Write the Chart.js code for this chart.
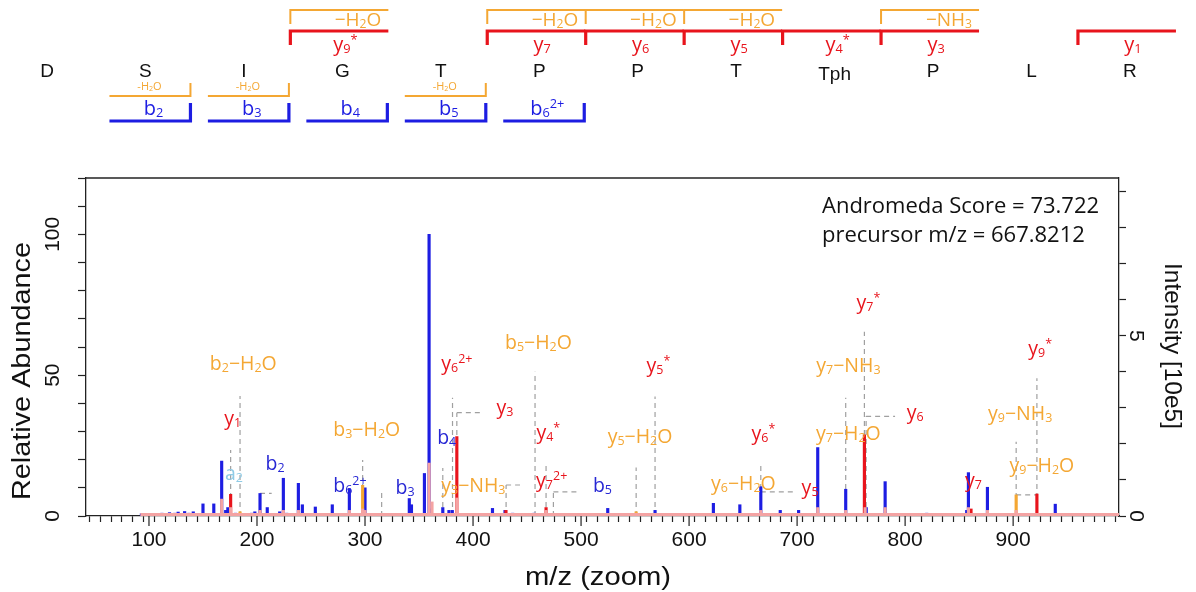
<!DOCTYPE html>
<html>
<head>
<meta charset="utf-8">
<script src="https://cdn.jsdelivr.net/npm/chart.js@4.4.0/dist/chart.umd.min.js"></script>
<style>
  html, body { margin: 0; padding: 0; background: #fff; }
  #wrap { width: 1196px; height: 592px; }
</style>
</head>
<body>
<div id="wrap"><canvas id="spec" width="1196" height="592"></canvas></div>
<script>
// ===============================
// Peptide sequence and fragment coverage
// ===============================
const residues = ["D", "S", "I", "G", "T", "P", "P", "T", "Tph", "P", "L", "R"];
const yStart = [3, 5, 6, 7, 8, 9, 11];
const yNames = ["y_9^*", "y_7", "y_6", "y_5", "y_4^*", "y_3", "y_1"];
const yLoss = ["−H_2O", "−H_2O", "−H_2O", "−H_2O", "", "−NH_3", ""];
const bEnd = [1, 2, 3, 4, 5];
const bNames = ["b_2", "b_3", "b_4", "b_5", "b_6^2+"];
const bLoss = ["-H_2O", "-H_2O", "", "-H_2O", ""];

// ===============================
// Spectrum peaks (m/z, relative abundance %)
// ===============================
const blueMz = [93, 102, 107, 112, 116, 119, 124, 127, 130, 133, 137, 141, 150, 160, 167.3, 171, 173, 180,
  195, 198, 202.8, 209.5, 221, 224.4, 227.5, 238.3, 242, 254, 269.7, 285.5, 300, 341, 343, 355, 359.3, 361,
  372, 377.7, 380.8, 418, 429.6, 436.7, 443, 446, 456.5, 477, 500, 503, 524.7, 568.5, 596, 622.5, 647, 659.6,
  666.4, 684.4, 701.4, 719.1, 745, 764, 781.5, 820, 857, 858.6, 876.2, 939];
const blueRel = [0.8, 0.8, 0.6, 1.0, 0.6, 1.2, 1.0, 1.4, 0.8, 1.6, 1.0, 1.5, 4.3, 4.3, 19.5, 2.0, 3.0, 1.0,
  1.0, 1.5, 8.0, 3.0, 1.5, 13.4, 1.0, 11.6, 4.0, 3.2, 4.0, 9.7, 10.0, 6.2, 4.0, 15.1, 100, 2.5,
  3.0, 2.0, 2.0, 2.7, 2.0, 1.0, 0.8, 0.8, 1.0, 0.8, 0.7, 0.7, 2.7, 2.0, 0.5, 4.5, 4.0, 0.7,
  10.4, 2.0, 2.0, 24.3, 9.5, 3.0, 12.2, 1.0, 2.0, 15.4, 10.2, 4.2];
const redMz = [175.6, 385, 430.5, 467.6, 762.3, 861, 922];
const redRel = [7.7, 28.2, 2.0, 3.0, 28.8, 2.5, 7.8];
const orangeMz = [184.3, 297.8, 551, 902.8];
const orangeRel = [1.5, 10.9, 1.5, 7.5];
const pinkMz = [167.3, 175.6, 202.8, 224.4, 238.3, 285.5, 297.8, 300, 359.3, 362, 385, 467.6, 666.4, 719.1, 745, 763, 781.5, 858.6, 876.2, 902.8];
const pinkRel = [6, 3, 2, 2, 2, 2, 2.5, 2, 18.8, 5, 6.4, 2, 2, 3, 2, 3, 3, 3, 2, 2];
const noiseFrom = 92;

// dashed guide lines
const guideMz = [175.6, 184.3, 297.8, 315.4, 372, 381, 385, 430.6, 457.4, 467.6, 474.4, 551, 568.5, 666.4, 745, 762.3, 763.9, 902.8, 922];
const guideTop = [23.4, 42.6, 19.9, 8.6, 17, 42, 36.7, 11, 51.2, 18.7, 8.6, 17.2, 42.4, 18.1, 42, 65.4, 35.4, 26.4, 48.9];
const hFrom = [202.8, 385, 430.6, 474.4, 666.4, 763.9, 902.8];
const hTo = [213.6, 409.6, 443.5, 497.5, 699.7, 790.7, 922];
const hAt = [8.0, 36.7, 11, 8.6, 8.6, 35.4, 7.5];

// peak labels
const annText = ["b_2−H_2O", "y_1", "a_2", "b_2", "b_3−H_2O", "b_6^2+", "b_3", "b_4", "y_6^2+", "y_3", "y_3−NH_3",
  "b_5−H_2O", "y_4^*", "y_7^2+", "b_5", "y_5−H_2O", "y_5^*", "y_6−H_2O", "y_6^*", "y_5", "y_7−NH_3", "y_7−H_2O",
  "y_7^*", "y_6", "y_7", "y_9^*", "y_9−NH_3", "y_9−H_2O"];
const annKind = ["o", "r", "a", "b", "o", "b", "b", "b", "r", "r", "o", "o", "r", "r", "b", "o", "r", "o", "r", "r", "o", "o", "r", "r", "r", "r", "o", "o"];
const annMz = [187.3, 177.5, 178.7, 216.7, 301.6, 286, 337, 375.6, 385, 429.6, 400.3, 460.5, 469.7, 472.8, 519.8,
  554.6, 571.6, 650.3, 668.8, 712, 747.5, 747.5, 766, 809.3, 863.3, 925, 906.5, 926.6];
const annRel = [54.4, 34.7, 15.2, 18.7, 30.8, 11, 10.4, 28.2, 54.2, 38.6, 11, 61.7, 29.9, 12.8, 11, 28.5, 53.6,
  11.6, 29.4, 10.4, 53.6, 29.4, 76.1, 37, 12.8, 59.5, 36.5, 18.1];

// axes
const mzMin = 41.7, mzMax = 998;
const relMax = 120;
const basePeak = 7.82; // intensity of the 100% peak, 10e5
const xMajor = [100, 200, 300, 400, 500, 600, 700, 800, 900];
const leftLabels = [0, 50, 100];
const rightLabels = [0, 5];
const scoreLines = ["Andromeda Score = 73.722", "precursor m/z = 667.8212"];

// ===============================
// colours / fonts
// ===============================
const BLUE = "#1d1de2", RED = "#e8141c", ORANGE = "#f4a733", PINK = "#f4a3a3", LBLUE = "#8fcbe6";
const labelColor = { o: ORANGE, r: RED, b: "#2727d4", a: LBLUE };
const txtFont = '"Open Sans", "DejaVu Sans", sans-serif';
const axFont = '"Liberation Sans", Arial, sans-serif';

function pts(mz, rel) {
  return mz.map((m, i) => ({ x: m, y: rel[i] }));
}

function guidePoints() {
  const p = [];
  guideMz.forEach((m, i) => {
    p.push({ x: m, y: 0 }, { x: m, y: guideTop[i] }, { x: m, y: null });
  });
  hFrom.forEach((m, i) => {
    p.push({ x: m, y: hAt[i] }, { x: hTo[i], y: hAt[i] }, { x: hTo[i], y: null });
  });
  return p;
}

// ===============================
// text with sub/superscripts: "y_6^2+"
// ===============================
function parseRich(str) {
  const out = [];
  let i = 0;
  while (i < str.length) {
    const c = str[i];
    if (c === "_") {
      out.push({ t: str[i + 1], k: "sub" });
      i += 2;
    } else if (c === "^") {
      let j = i + 1, s = "";
      while (j < str.length && /[0-9+*]/.test(str[j])) { s += str[j]; j++; }
      out.push({ t: s, k: "sup" });
      i = j;
    } else {
      if (out.length && out[out.length - 1].k === "n") out[out.length - 1].t += c;
      else out.push({ t: c, k: "n" });
      i++;
    }
  }
  return out;
}

function drawRich(ctx, str, x, y, size, color, align) {
  const parts = parseRich(str);
  const sz = { n: size, sub: size * 0.64, sup: size * 0.64 };
  const dy = { n: 0, sub: size * 0.1, sup: -size * 0.36 };
  let w = 0;
  parts.forEach((p) => {
    ctx.font = sz[p.k] + "px " + txtFont;
    p.w = ctx.measureText(p.t).width;
    w += p.w;
  });
  let cx = align === "right" ? x - w : align === "left" ? x : x - w / 2;
  ctx.fillStyle = color;
  ctx.textAlign = "left";
  ctx.textBaseline = "alphabetic";
  parts.forEach((p) => {
    ctx.font = sz[p.k] + "px " + txtFont;
    ctx.fillText(p.t, cx, y + size * 0.36 + dy[p.k]);
    cx += p.w;
  });
}

// text stretched to a given length along its direction
function drawFitted(ctx, str, cx, cy, rot, size, len) {
  ctx.save();
  ctx.font = size + "px " + axFont;
  const w = ctx.measureText(str).width;
  ctx.translate(cx, cy);
  ctx.rotate(rot);
  ctx.scale(len / w, 1);
  ctx.textAlign = "center";
  ctx.textBaseline = "middle";
  ctx.fillStyle = "#111";
  ctx.fillText(str, 0, 0);
  ctx.restore();
}

function line(ctx, pts, color, width) {
  ctx.strokeStyle = color;
  ctx.lineWidth = width;
  ctx.beginPath();
  ctx.moveTo(pts[0], pts[1]);
  for (let i = 2; i < pts.length; i += 2) ctx.lineTo(pts[i], pts[i + 1]);
  ctx.stroke();
}

// ===============================
// plugin: sequence header, labels, axis texts
// ===============================
const annotate = {
  id: "annotate",
  afterDraw(chart) {
    const ctx = chart.ctx;
    const a = chart.chartArea;
    const xs = chart.scales.x, ys = chart.scales.y, y2 = chart.scales.y2;
    ctx.save();

    // box top
    line(ctx, [a.left, a.top, a.right, a.top], "#222", 1.3);
    // longer major ticks
    xMajor.forEach((v) => {
      const px = xs.getPixelForValue(v);
      line(ctx, [px, a.bottom, px, a.bottom + 10], "#222", 1.2);
    });

    // sequence
    const seqX0 = 47, seqDx = 98.45;
    const cxOf = (i) => seqX0 + i * seqDx;
    ctx.fillStyle = "#111";
    ctx.font = "19px " + axFont;
    ctx.textAlign = "center";
    ctx.textBaseline = "middle";
    residues.forEach((r, i) => {
      ctx.fillText(r, cxOf(i), r === "Tph" ? 75 : 72);
    });

    yStart.forEach((ri, i) => {
      const cx = cxOf(ri);
      const l = cx - 52, r = cx + 46;
      if (yLoss[i]) {
        line(ctx, [l, 24, l, 10, r, 10], ORANGE, 2);
        drawRich(ctx, yLoss[i], r - 7, 19, 19, ORANGE, "right");
      }
      line(ctx, [l, 45, l, 31, r, 31], RED, 3.2);
      drawRich(ctx, yNames[i], cx + 3, 44, 20, RED, "center");
    });

    bEnd.forEach((ri, i) => {
      const cx = cxOf(ri);
      const l = cx - 36, r = cx + 45;
      if (bLoss[i]) {
        line(ctx, [l, 96, r, 96, r, 83], ORANGE, 2);
        drawRich(ctx, bLoss[i], cx + 4, 86, 11, ORANGE, "center");
      }
      line(ctx, [l, 121, r, 121, r, 103], BLUE, 3.2);
      drawRich(ctx, bNames[i], cx + 8, 108, 20, BLUE, "center");
    });

    // peak labels
    annText.forEach((t, i) => {
      drawRich(ctx, t, xs.getPixelForValue(annMz[i]), ys.getPixelForValue(annRel[i]), 19.5, labelColor[annKind[i]], "center");
    });

    // score box text
    ctx.fillStyle = "#111";
    ctx.font = "22px " + txtFont;
    ctx.textAlign = "left";
    ctx.textBaseline = "middle";
    scoreLines.forEach((s, i) => ctx.fillText(s, 822, 207 + i * 29));

    // rotated axis numbers
    ctx.font = "21px " + axFont;
    ctx.textAlign = "center";
    ctx.textBaseline = "middle";
    leftLabels.forEach((v) => {
      ctx.save();
      ctx.translate(53, ys.getPixelForValue(v));
      ctx.rotate(-Math.PI / 2);
      ctx.fillText(String(v), 0, 0);
      ctx.restore();
    });
    rightLabels.forEach((v) => {
      ctx.save();
      ctx.translate(1136, y2.getPixelForValue(v));
      ctx.rotate(Math.PI / 2);
      ctx.fillText(String(v), 0, 0);
      ctx.restore();
    });

    // axis titles
    drawFitted(ctx, "Relative Abundance", 23, 371, -Math.PI / 2, 25, 258);
    drawFitted(ctx, "Intensity [10e5]", 1172, 346, Math.PI / 2, 24, 166);
    drawFitted(ctx, "m/z (zoom)", 598, 578, 0, 25, 146);

    ctx.restore();
  },
};

const barCommon = { barThickness: 2.5, grouped: false, borderWidth: 0 };

new Chart(document.getElementById("spec"), {
  type: "bar",
  data: {
    datasets: [
      { type: "line", data: guidePoints(), borderColor: "#a0a0a0", borderWidth: 1.2, borderDash: [5, 4],
        pointRadius: 0, spanGaps: false, order: 5 },
      Object.assign({ data: pts(blueMz, blueRel), backgroundColor: BLUE, order: 4 }, barCommon),
      Object.assign({ data: pts(redMz, redRel), backgroundColor: RED, order: 3 }, barCommon),
      Object.assign({ data: pts(orangeMz, orangeRel), backgroundColor: ORANGE, order: 3 }, barCommon),
      Object.assign({ data: pts(pinkMz, pinkRel), backgroundColor: PINK, order: 2 }, barCommon),
      { type: "line", data: [{ x: noiseFrom, y: 0.5 }, { x: mzMax, y: 0.5 }], borderColor: PINK, borderWidth: 3,
        pointRadius: 0, order: 1 },
    ],
  },
  options: {
    responsive: false,
    animation: false,
    events: [],
    layout: { padding: { top: 178, left: 0, right: 0, bottom: 0 } },
    plugins: { legend: { display: false }, tooltip: { enabled: false } },
    scales: {
      x: {
        type: "linear",
        min: mzMin,
        max: mzMax,
        offset: false,
        afterBuildTicks: (s) => {
          const t = [];
          for (let v = 50; v <= 990; v += 10) t.push({ value: v });
          s.ticks = t;
        },
        afterFit: (s) => { s.height = 76; },
        grid: { drawOnChartArea: false, tickLength: 6, color: "#222", tickWidth: 1.2 },
        border: { color: "#222", width: 1.3 },
        ticks: {
          autoSkip: false, maxRotation: 0, padding: 6, color: "#111",
          font: { family: axFont, size: 21 },
          callback: (v) => (xMajor.includes(v) ? String(v) : ""),
        },
      },
      y: {
        position: "left",
        min: 0,
        max: relMax,
        afterFit: (s) => { s.width = 86; },
        ticks: { display: false, stepSize: 10 },
        grid: { drawOnChartArea: false, tickLength: 8, color: "#222", tickWidth: 1.2 },
        border: { color: "#222", width: 1.3 },
      },
      y2: {
        position: "right",
        min: 0,
        max: (relMax * basePeak) / 100,
        afterBuildTicks: (s) => {
          s.ticks = s.ticks.filter((t) => Number.isInteger(t.value));
        },
        afterFit: (s) => { s.width = 77; },
        ticks: { display: false, stepSize: 1 },
        grid: { drawOnChartArea: false, tickLength: 7, color: "#222", tickWidth: 1.2 },
        border: { color: "#222", width: 1.3 },
      },
    },
  },
  plugins: [annotate],
});
</script>
</body>
</html>
